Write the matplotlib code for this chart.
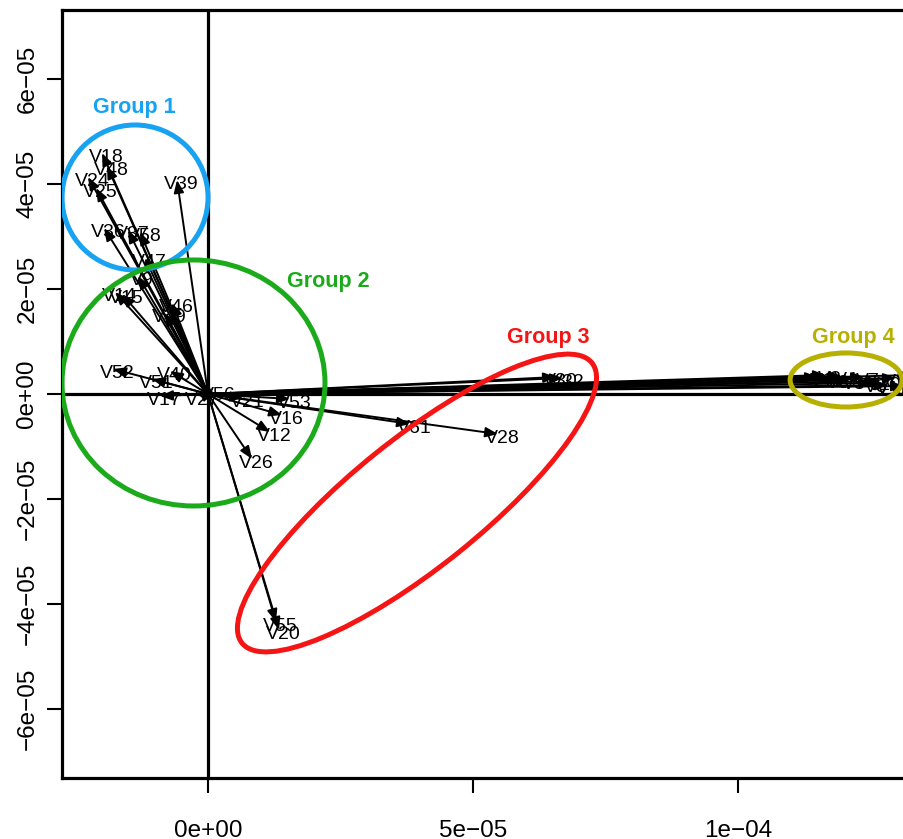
import matplotlib
matplotlib.use("Agg")
import matplotlib.pyplot as plt
from matplotlib.patches import Ellipse

plt.rcParams['font.family'] = ['Liberation Sans', 'DejaVu Sans']

SCALE = 1e-5

# Variable loadings (units of 1e-5): name, x, y
var_names = ["V18", "V48", "V24", "V25", "V39", "V36", "V37", "V58", "V47", "V9",
             "V14", "V15", "V46", "V49",
             "V52", "V40", "V51", "V17", "V27", "V56", "V21", "V53", "V16", "V12", "V26",
             "V61", "V28", "V30", "V32", "V55", "V20",
             "V1", "V2", "V3", "V4", "V5", "V7", "V8", "V10", "V11", "V13", "V22", "V23"]
var_x = [-2.00, -1.906, -2.264, -2.113, -0.585, -1.962, -1.509, -1.283, -1.189, -1.321,
         -1.755, -1.623, -0.679, -0.811,
         -1.792, -0.717, -1.057, -0.906, -0.189, 0.113, 0.660, 1.547, 1.396, 1.170, 0.830,
         3.811, 5.472, 6.566, 6.698, 1.283, 1.340,
         11.51, 11.66, 11.81, 11.96, 12.11, 12.38, 12.53, 12.68, 12.83, 12.98, 13.13, 13.28]
var_y = [4.590, 4.343, 4.133, 3.924, 4.076, 3.162, 3.124, 3.086, 2.590, 2.248,
         1.943, 1.905, 1.733, 1.543,
         0.476, 0.438, 0.286, -0.038, -0.038, 0.057, -0.076, -0.095, -0.400, -0.724, -1.238,
         -0.571, -0.762, 0.324, 0.305, -4.343, -4.495,
         0.324, 0.362, 0.286, 0.343, 0.267, 0.324, 0.210, 0.248, 0.171, 0.305, 0.152, 0.362]

# Group ellipses (units of 1e-5): centre, width, height, rotation
group_names = ["Group 1", "Group 2", "Group 3", "Group 4"]
group_colors = ["#17A2F2", "#1AAA1A", "#F51515", "#B8B000"]
group_cx = [-1.377, -0.274, 3.943, 12.04]
group_cy = [3.743, 0.210, -2.076, 0.267]
group_w = [2.755, 4.962, 8.49, 2.113]
group_h = [2.762, 4.686, 2.45, 1.029]
group_angle = [0, 0, 39, 0]
group_label_x = [-1.396, 2.264, 6.415, 12.17]
group_label_y = [5.448, 2.152, 1.067, 1.067]

x_ticks = [0, 5e-5, 1e-4]
x_tick_labels = ["0e+00", "5e\u221205", "1e\u221204"]
y_ticks = [-6e-5, -4e-5, -2e-5, 0, 2e-5, 4e-5, 6e-5]
y_tick_labels = ["\u22126e\u221205", "\u22124e\u221205", "\u22122e\u221205", "0e+00",
                 "2e\u221205", "4e\u221205", "6e\u221205"]

fig = plt.figure(figsize=(9.04, 8.39), dpi=100)
ax = fig.add_axes([62 / 904, 1 - 778 / 839, (920 - 62) / 904, 768 / 839])
ax.set_xlim(-2.755e-5, 13.434e-5)
ax.set_ylim(-7.314e-5, 7.314e-5)

ax.axhline(0, color="black", lw=2.3, zorder=1)
ax.axvline(0, color="black", lw=2.3, zorder=1)

for name, x, y in zip(var_names, var_x, var_y):
    ax.annotate("", xy=(x * SCALE, y * SCALE), xytext=(0, 0),
                arrowprops=dict(arrowstyle="-|>,head_length=0.5,head_width=0.2",
                                mutation_scale=15, lw=1.4, color="black",
                                shrinkA=0, shrinkB=0), zorder=2)
    ax.annotate(name, xy=(x * SCALE, y * SCALE), xytext=(3, -3),
                textcoords="offset points", ha="center", va="center",
                fontsize=14, color="black", annotation_clip=True, zorder=3)

for i in range(len(group_names)):
    ax.add_patch(Ellipse((group_cx[i] * SCALE, group_cy[i] * SCALE),
                         group_w[i] * SCALE, group_h[i] * SCALE,
                         angle=group_angle[i], fill=False,
                         edgecolor=group_colors[i], lw=3.6, zorder=4))
    ax.text(group_label_x[i] * SCALE, group_label_y[i] * SCALE, group_names[i],
            color=group_colors[i], fontsize=15.5, fontweight="bold",
            ha="center", va="center", zorder=5)

ax.set_xticks(x_ticks)
ax.set_xticklabels(x_tick_labels, fontsize=17.5)
ax.set_yticks(y_ticks)
ax.set_yticklabels(y_tick_labels, fontsize=17.5, rotation=90, va="center")
ax.tick_params(axis="x", length=11, width=1.5, pad=19)
ax.tick_params(axis="y", length=11, width=1.5, pad=6)
for s in ax.spines.values():
    s.set_linewidth(2.3)

fig.savefig("out.png", dpi=100)
